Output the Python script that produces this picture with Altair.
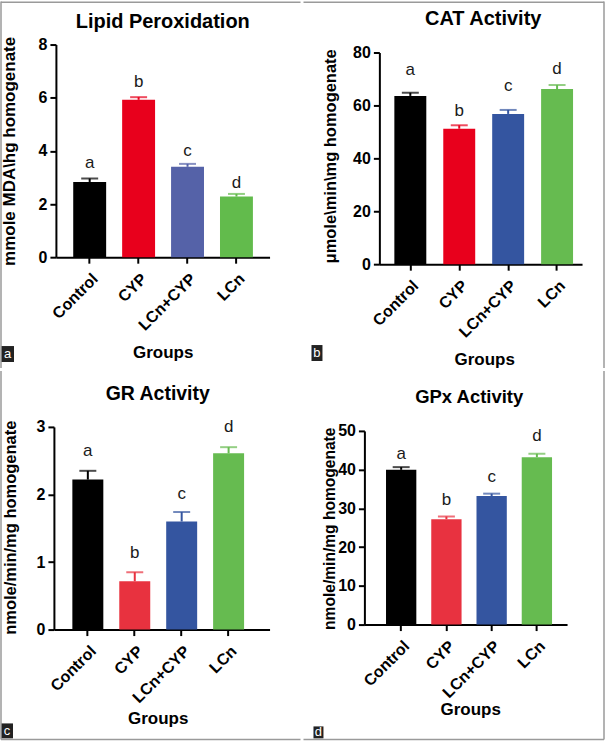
import altair as alt
import pandas as pd

FONT = "Liberation Sans"

groups = ["Control", "CYP", "LCn+CYP", "LCn"]
sig_letters = ["a", "b", "c", "d"]

# Panel a: Lipid peroxidation
lp_mean = [2.83, 5.92, 3.40, 2.28]
lp_sem = [0.13, 0.10, 0.11, 0.10]
lp_letter_y = [3.55, 6.58, 4.0, 2.8]
lp_colors = ["#000000", "#E8001C", "#5562A8", "#62BB4C"]

# Panel b: CAT activity
cat_mean = [63.6, 51.2, 56.8, 66.2]
cat_sem = [1.2, 1.3, 1.5, 1.5]
cat_letter_y = [73.4, 57.9, 67.5, 73.6]
cat_colors = ["#000000", "#E8001C", "#3455A0", "#66BB50"]

# Panel c: GR activity
gr_mean = [2.22, 0.715, 1.60, 2.61]
gr_sem = [0.13, 0.135, 0.14, 0.09]
gr_letter_y = [2.64, 1.14, 2.0, 3.0]
gr_colors = ["#000000", "#E8323F", "#3455A0", "#66BB50"]

# Panel d: GPx activity
gpx_mean = [39.95, 27.2, 33.2, 43.2]
gpx_sem = [0.7, 0.7, 0.6, 0.9]
gpx_letter_y = [44.0, 32.2, 38.1, 48.7]
gpx_colors = ["#000000", "#E83240", "#3455A0", "#66BB50"]


def one(text):
    return pd.DataFrame({"t": [text]})


AXIS_STYLE = dict(
    grid=False, domainColor="#000000", domainWidth=2, tickColor="#000000",
    tickWidth=2, tickSize=6, labelFont=FONT, labelFontWeight="bold",
    labelColor="#000000", titleFont=FONT, titleFontWeight="bold",
    titleColor="#000000", labelFontSize=16,
)


def panel(s):
    df = pd.DataFrame({
        "group": groups,
        "mean": s["mean"],
        "top": [m + e for m, e in zip(s["mean"], s["sem"])],
        "letter": sig_letters,
        "ly": s["ly"],
        "color": s["colors"],
    })
    xs = alt.Scale(domain=groups, range=s["xr"], paddingInner=s["pi"],
                   paddingOuter=s["po"], align=s["al"])
    ys = alt.Scale(domain=[0, s["ymax"]], range=s["yr"], nice=False, zero=True)
    xaxis = alt.Axis(
        title="Groups", labelAngle=-45, labelAlign="right", labelBaseline="top",
        labelPadding=7, labelOverlap=False, offset=s["xoff"],
        titleX=s["gx"], titleY=s["gy"], titleAlign="center",
        titleBaseline="alphabetic", titleFontSize=17, **AXIS_STYLE,
    )
    yaxis = alt.Axis(
        title=s["ytitle"], values=s["ticks"], format="d", offset=s["yoff"],
        titleX=s["tx"], titleY=s["ty"], titleAngle=270, titleAlign="center",
        titleBaseline="alphabetic", titleFontSize=s["tfs"], labelPadding=3,
        **AXIS_STYLE,
    )
    base = alt.Chart(df)
    X = alt.X("group:N", scale=xs, axis=xaxis, title="Groups")
    Y = alt.Y("mean:Q", scale=ys, axis=yaxis, title=s["ytitle"])
    C = alt.Color("color:N", scale=None)
    bars = base.mark_bar().encode(x=X, y=Y, color=C)
    err = base.mark_rule(strokeWidth=2).encode(
        x=alt.X("group:N", title="Groups"),
        y=alt.Y("mean:Q", title=s["ytitle"]), y2="top:Q", color=C)
    cap = base.mark_tick(size=17, thickness=2, orient="horizontal").encode(
        x=alt.X("group:N", title="Groups"),
        y=alt.Y("top:Q", title=s["ytitle"]), color=C)
    lett = base.mark_text(font=FONT, fontSize=17, baseline="middle",
                          color="#1a1a1a").encode(
        x=alt.X("group:N", title="Groups"),
        y=alt.Y("ly:Q", title=s["ytitle"]), text="letter:N")
    title = alt.Chart(one(s["title"])).mark_text(
        font=FONT, fontSize=s["hfs"], fontWeight="bold", align="center",
        baseline="alphabetic", color="#000000").encode(
        text="t:N", x=alt.value(s["hx"]), y=alt.value(s["hy"]))
    bx = s["box"]
    box = alt.Chart(one(s["tag"])).mark_rect(color="#222222").encode(
        x=alt.value(bx[0]), x2=alt.value(bx[1]), y=alt.value(bx[2]), y2=alt.value(bx[3]))
    boxt = alt.Chart(one(s["tag"])).mark_text(
        font=FONT, fontSize=13, color="#ffffff", align="center",
        baseline="middle").encode(
        text="t:N", x=alt.value((bx[0] + bx[1]) / 2), y=alt.value((bx[2] + bx[3]) / 2))
    borders = []
    for (x1, x2, y1, y2) in s["borders"]:
        borders.append(alt.Chart(one("b")).mark_rule(color="#9a9a9a", strokeWidth=1.5).encode(
            x=alt.value(x1), x2=alt.value(x2), y=alt.value(y1), y2=alt.value(y2)))
    return alt.layer(bars, err, cap, lett, title, box, boxt, *borders).properties(
        width=s["w"], height=s["h"])


pa = panel(dict(
    mean=lp_mean, sem=lp_sem, ly=lp_letter_y, colors=lp_colors,
    xr=[56, 270], pi=0.327, po=0.347, al=0.51, yr=[256, 43], ymax=8,
    ticks=[0, 2, 4, 6, 8], xoff=-112, yoff=-56,
    ytitle="mmole MDA\\hg homogenate", tfs=17, tx=-41, ty=149.5,
    gx=163, gy=100, title="Lipid Peroxidation", hfs=20, hx=163, hy=26,
    tag="a", box=[1, 14, 345, 361],
    borders=[(1, 1, 0, 367), (1, 301, 0.75, 0.75)], w=302, h=368))

pb = panel(dict(
    mean=cat_mean, sem=cat_sem, ly=cat_letter_y, colors=cat_colors,
    xr=[77, 280], pi=0.347, po=0.245, al=0.625, yr=[263, 51], ymax=80,
    ticks=[0, 20, 40, 60, 80], xoff=-105, yoff=-77,
    ytitle="\u03bcmole\\min\\mg homogenate", tfs=16.5, tx=-44, ty=154.5,
    gx=182, gy=100, title="CAT Activity", hfs=20, hx=181, hy=23,
    tag="b", box=[9, 20, 344, 360],
    borders=[(1, 302, 0.75, 0.75), (302, 302, 0, 367)], w=303, h=368))

pc = panel(dict(
    mean=gr_mean, sem=gr_sem, ly=gr_letter_y, colors=gr_colors,
    xr=[54, 270], pi=0.34, po=0.468, al=0.42, yr=[259, 56], ymax=3,
    ticks=[0, 1, 2, 3], xoff=-111, yoff=-54,
    ytitle="nmole/min/mg homogenate", tfs=16.5, tx=-38, ty=156.5,
    gx=158, gy=94, title="GR Activity", hfs=19.5, hx=158, hy=29,
    tag="c", box=[1, 13, 353, 368],
    borders=[(1, 1, 0, 369), (1, 301, 369, 369)], w=302, h=370))

pd_ = panel(dict(
    mean=gpx_mean, sem=gpx_sem, ly=gpx_letter_y, colors=gpx_colors,
    xr=[62, 265], pi=0.33, po=0.405, al=0.59, yr=[254, 60], ymax=50,
    ticks=[0, 10, 20, 30, 40, 50], xoff=-116, yoff=-62,
    ytitle="nmole/min/mg homogenate", tfs=15.6, tx=-30, ty=157.5,
    gx=168, gy=90, title="GPx Activity", hfs=18.5, hx=167, hy=32,
    tag="d", box=[11, 21, 356, 368],
    borders=[(302, 302, 0, 369), (1, 302, 369, 369)], w=303, h=370))

chart = alt.concat(
    pa, pb, pc, pd_, columns=2, spacing=0, bounds="flush", align="all"
).properties(
    padding=0, background="#ffffff"
).configure_view(stroke="transparent", strokeWidth=0)

chart.save("out.html", embed_options={"renderer": "svg", "actions": False})
